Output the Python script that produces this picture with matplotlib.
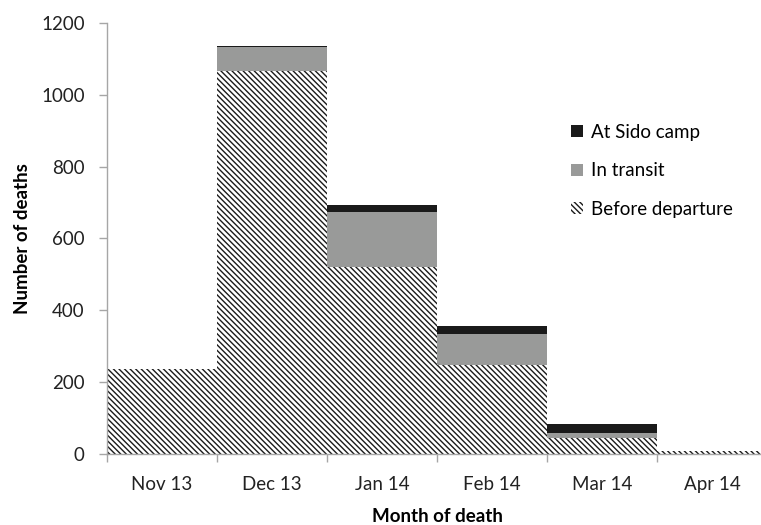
import matplotlib.pyplot as plt
import numpy as np

months = ["Nov 13", "Dec 13", "Jan 14", "Feb 14", "Mar 14", "Apr 14"]
before_departure = [236, 1065, 520, 248, 45, 8]
in_transit = [0, 67, 155, 86, 13, 0]
at_sido_camp = [0, 3, 17, 22, 26, 0]

plt.rcParams['font.family'] = ['Lato', 'DejaVu Sans']
plt.rcParams['hatch.linewidth'] = 1.0

fig = plt.figure(figsize=(7.61, 5.25), dpi=100)
ax = fig.add_axes([107 / 761, 1 - 454 / 525, 660 / 761, 431 / 525])

x = np.arange(len(months))
b1 = np.array(before_departure)
b2 = b1 + np.array(in_transit)

ax.bar(x, before_departure, width=1.0, color='white', edgecolor='#1a1a1a',
       hatch='\\\\\\\\\\\\', linewidth=0, label='Before departure')
ax.bar(x, in_transit, width=1.0, bottom=b1, color='#999a99', linewidth=0,
       label='In transit')
ax.bar(x, at_sido_camp, width=1.0, bottom=b2, color='#1a1a1a', linewidth=0,
       label='At Sido camp')

ax.set_xlim(-0.5, 5.5)
ax.set_ylim(0, 1200)
ax.set_yticks(range(0, 1201, 200))
ax.set_xticks(x)
ax.set_xticklabels(months)
ax.set_xticks(np.arange(-0.5, 5.6, 1.0), minor=True)
ax.tick_params(axis='x', which='major', length=0, pad=16, labelsize=13.5,
               labelcolor='#222222')
ax.tick_params(axis='x', which='minor', length=6, color='#a6a6a6', width=1)
ax.tick_params(axis='y', length=6, color='#a6a6a6', width=1, labelsize=13.5,
               pad=10, labelcolor='#222222')
for s in ['top', 'right']:
    ax.spines[s].set_visible(False)
for s in ['left', 'bottom']:
    ax.spines[s].set_color('#a6a6a6')
    ax.spines[s].set_linewidth(1)

ax.set_ylabel("Number of deaths", fontsize=13.5, fontweight='bold', labelpad=7)
ax.set_xlabel("Month of death", fontsize=13.5, fontweight='bold', labelpad=11)

handles, labels = ax.get_legend_handles_labels()
ax.legend(handles[::-1], labels[::-1], frameon=False, fontsize=13.5,
          handlelength=0.6, handleheight=0.6, handletextpad=0.45,
          labelspacing=1.15, loc='upper left',
          bbox_to_anchor=(0.678, 0.805))

fig.savefig("out.png", dpi=100)
